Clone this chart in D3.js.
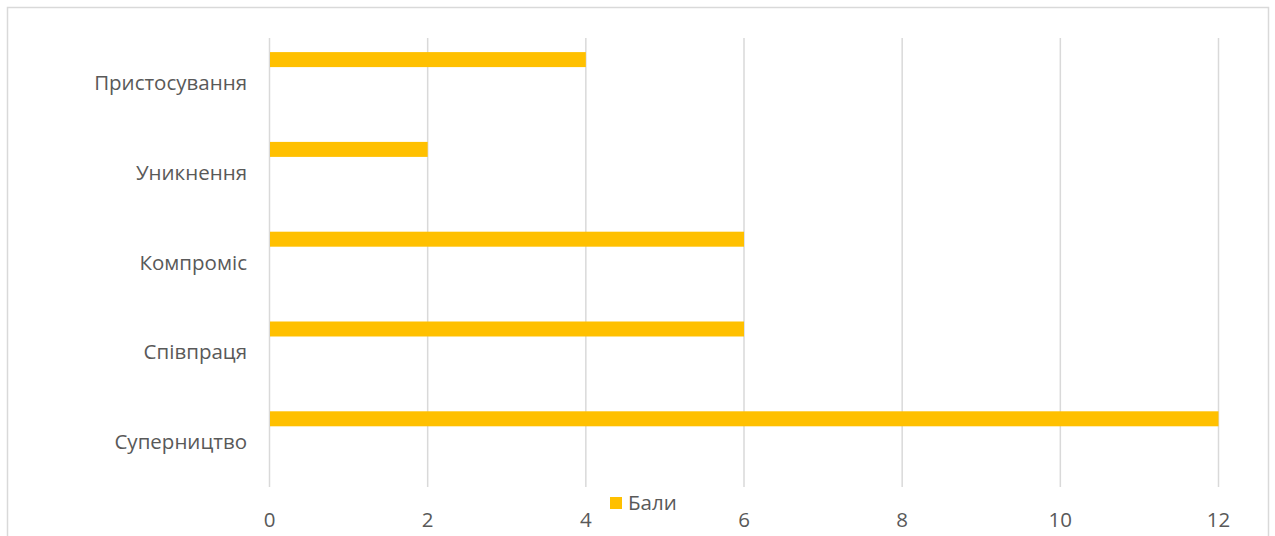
<!DOCTYPE html>
<html><head><meta charset="utf-8">
<script src="https://cdn.jsdelivr.net/npm/d3@7"></script>
<style>body{margin:0;background:#fff}svg{display:block}</style>
</head><body>
<svg id="c" width="1275" height="536"></svg>
<script>
const categories = ["Пристосування","Уникнення","Компроміс","Співпраця","Суперництво"];
const values = [4, 2, 6, 6, 12];
const seriesName = "Бали";
const ticks = [0, 2, 4, 6, 8, 10, 12];

const svg = d3.select("#c");
const font = "'Open Sans', sans-serif";
const fs = 20.5;
const textColor = "#595959";
const barColor = "#FFC000";

svg.append("rect").attr("x",7.5).attr("y",7.5).attr("width",1261).attr("height",560)
  .attr("fill","#fff").attr("stroke","#d9d9d9").attr("stroke-width",1.5);

const x = d3.scaleLinear().domain([0,12]).range([269.5,1218.5]);
const y = d3.scaleBand().domain(categories).range([38,487]).padding(0);
const bw = y.bandwidth();

// gridlines
svg.append("g").selectAll("line").data(ticks).join("line")
  .attr("x1",d=>x(d)).attr("x2",d=>x(d)).attr("y1",38).attr("y2",487)
  .attr("stroke","#d9d9d9").attr("stroke-width",1.5);

// bars
svg.append("g").selectAll("rect").data(categories).join("rect")
  .attr("x",x(0)+0.5).attr("y",d=>y(d)+bw*0.157)
  .attr("width",(d,i)=>x(values[i])-x(0)-0.5).attr("height",bw*0.167)
  .attr("fill",barColor);

// category labels
svg.append("g").selectAll("text").data(categories).join("text")
  .attr("x",247).attr("y",d=>y(d)+bw/2).attr("dy","0.35em")
  .attr("text-anchor","end").attr("font-family",font).attr("font-size",fs)
  .attr("fill",textColor).text(d=>d);

// x tick labels
svg.append("g").selectAll("text").data(ticks).join("text")
  .attr("x",d=>x(d)).attr("y",520).attr("dy","0.35em")
  .attr("text-anchor","middle").attr("font-family",font).attr("font-size",fs)
  .attr("fill",textColor).text(d=>d);

// legend
svg.append("rect").attr("x",610).attr("y",497).attr("width",12).attr("height",12).attr("fill",barColor);
svg.append("text").attr("x",628).attr("y",503).attr("dy","0.35em")
  .attr("font-family",font).attr("font-size",fs).attr("fill",textColor).text(seriesName);
</script>
</body></html>
